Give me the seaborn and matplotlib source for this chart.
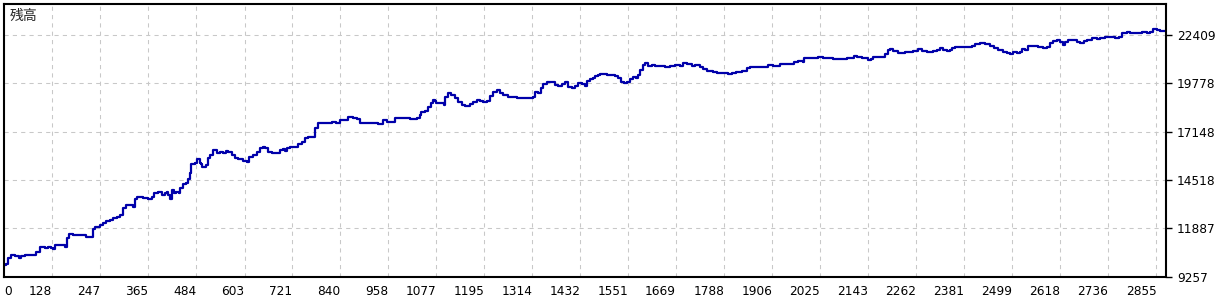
import numpy as np
import pandas as pd
import matplotlib
matplotlib.use("Agg")
import matplotlib.pyplot as plt
import seaborn as sns

# ---- data ----
trade_no = [
    9, 15, 19, 26, 36, 46, 52, 61, 85, 89, 98, 110, 118, 126, 130, 135, 151, 159, 164, 170,
    180, 205, 211, 221, 228, 233, 246, 254, 261, 271, 279, 287, 295, 303, 310, 324, 328, 332, 338, 353,
    365, 374, 379, 390, 398, 406, 411, 415, 419, 423, 429, 435, 441, 443, 450, 458, 464, 468, 472, 480,
    486, 493, 495, 498, 509, 513, 517, 526, 534, 542, 550, 557, 563, 571, 579, 587, 600, 608, 615, 624,
    633, 641, 649, 653, 662, 670, 682, 690, 699, 703, 709, 715, 727, 736, 744, 752, 760, 773, 777, 785,
    793, 806, 818, 830, 839, 851, 859, 871, 880, 888, 905, 925, 933, 942, 946, 956, 966, 974, 979, 995,
    1003, 1012, 1028, 1036, 1040, 1049, 1057, 1063, 1068, 1073, 1077, 1086, 1096, 1098, 1106, 1114, 1123, 1131, 1139, 1147,
    1160, 1168, 1176, 1184, 1193, 1201, 1209, 1217, 1226, 1234, 1242, 1254, 1267, 1275, 1287, 1300, 1308, 1316, 1320, 1328,
    1335, 1341, 1349, 1357, 1370, 1378, 1386, 1394, 1403, 1411, 1419, 1427, 1436, 1444, 1448, 1456, 1464, 1469, 1477, 1481,
    1497, 1518, 1526, 1534, 1541, 1547, 1555, 1563, 1571, 1575, 1580, 1588, 1592, 1600, 1609, 1617, 1629, 1641, 1654, 1666,
    1678, 1687, 1695, 1707, 1715, 1728, 1736, 1744, 1753, 1761, 1769, 1782, 1790, 1798, 1806, 1818, 1831, 1843, 1851, 1864,
    1876, 1884, 1897, 1909, 1917, 1925, 1942, 1954, 1961, 1971, 1975, 1983, 1985, 1999, 2012, 2020, 2032, 2049, 2057, 2082,
    2090, 2098, 2107, 2115, 2127, 2135, 2142, 2150, 2156, 2164, 2181, 2186, 2191, 2197, 2205, 2218, 2226, 2234, 2247, 2255,
    2267, 2275, 2288, 2296, 2304, 2313, 2321, 2329, 2337, 2346, 2351, 2358, 2374, 2391, 2399, 2407, 2419, 2432, 2444, 2454,
    2465, 2477, 2485, 2494, 2502, 2510, 2518, 2522, 2530, 2539, 2551, 2563, 2576, 2584, 2592, 2600, 2609, 2617, 2625, 2629,
    2637, 2650, 2658, 2666, 2675, 2683, 2695, 2708, 2716, 2728, 2740, 2753, 2763, 2769, 2782, 2790, 2802, 2819, 2831, 2839,
    2847, 2856, 2864, 2872, 2878,
]
balance = [
    9894, 9949, 10259, 10439, 10401, 10292, 10384, 10439, 10439, 10618, 10858, 10836, 10858, 10804, 10749, 10967, 10967, 10891, 11348, 11582,
    11544, 11528, 11435, 11435, 11838, 11980, 12089, 12198, 12307, 12345, 12437, 12524, 12617, 12982, 13145, 13162, 13069, 13472, 13581, 13543,
    13488, 13581, 13799, 13853, 13706, 13799, 13886, 13706, 13472, 13979, 13799, 13886, 13832, 14071, 14289, 14376, 14561, 14888, 15395, 15465,
    15651, 15465, 15378, 15248, 15340, 15705, 15885, 16157, 15977, 16064, 16010, 16103, 16064, 15885, 15705, 15667, 15558, 15520, 15792, 15885,
    16064, 16250, 16337, 16282, 16064, 15977, 15977, 16157, 16211, 16103, 16282, 16337, 16320, 16467, 16609, 16794, 16881, 16881, 17339, 17611,
    17611, 17611, 17698, 17611, 17791, 17791, 17970, 17883, 17829, 17611, 17611, 17611, 17557, 17557, 17791, 17698, 17698, 17883, 17916, 17883,
    17916, 17845, 17916, 18063, 18243, 18281, 18515, 18700, 18880, 18826, 18700, 18700, 18608, 19060, 19245, 19152, 18973, 18788, 18608, 18570,
    18646, 18755, 18880, 18826, 18788, 18826, 19114, 19299, 19425, 19245, 19152, 19060, 19027, 18973, 18973, 19005, 19005, 19060, 19299, 19245,
    19517, 19735, 19844, 19844, 19697, 19659, 19735, 19877, 19604, 19550, 19659, 19790, 19735, 19659, 19915, 20007, 20094, 20203, 20241, 20280,
    20241, 20187, 20062, 19877, 19790, 19877, 20007, 20116, 20062, 20241, 20514, 20786, 20879, 20732, 20786, 20748, 20748, 20661, 20748, 20786,
    20748, 20879, 20824, 20732, 20786, 20694, 20552, 20459, 20476, 20421, 20334, 20334, 20367, 20280, 20334, 20421, 20476, 20606, 20694, 20694,
    20661, 20694, 20786, 20748, 20732, 20841, 20841, 20841, 20966, 21004, 21004, 20933, 21184, 21151, 21184, 21222, 21184, 21184, 21113, 21113,
    21184, 21151, 21276, 21238, 21151, 21151, 21058, 21113, 21238, 21238, 21238, 21369, 21603, 21641, 21549, 21423, 21423, 21510, 21510, 21549,
    21641, 21549, 21510, 21510, 21549, 21603, 21696, 21603, 21565, 21603, 21728, 21783, 21783, 21783, 21821, 21913, 21968, 21913, 21837, 21696,
    21603, 21510, 21423, 21369, 21478, 21423, 21510, 21641, 21603, 21821, 21821, 21783, 21696, 21783, 22001, 22109, 22148, 22055, 21875, 22055,
    22148, 22148, 22055, 22001, 22109, 22148, 22240, 22186, 22240, 22295, 22295, 22273, 22327, 22545, 22567, 22512, 22545, 22567, 22545, 22600,
    22730, 22692, 22654, 22638, 22692,
]
x_ticks = [128, 247, 365, 484, 603, 721, 840, 958, 1077, 1195, 1314, 1432, 1551, 1669, 1788, 1906,
           2025, 2143, 2262, 2381, 2499, 2618, 2736, 2855]
y_ticks = [9257, 11887, 14518, 17148, 19778, 22409]
title = "残高"

df = pd.DataFrame({"trade": trade_no, "balance": balance})

sns.set_style("white")
plt.rcParams["font.family"] = ["DejaVu Sans", "Noto Sans CJK JP"]

W, H = 1230, 300
fig = plt.figure(figsize=(W / 100, H / 100), dpi=100)
ax = fig.add_axes([4 / W, (H - 276.7) / H, (1165.7 - 4) / W, (276.7 - 4) / H])

sns.lineplot(data=df, x="trade", y="balance", ax=ax, color="#0000AA",
             linewidth=1.6, estimator=None, sort=False, drawstyle="steps-post")

ax.set_xlim(9, 2878)
ax.set_ylim(9257, 24107)

ax.set_xticks([9] + x_ticks)
ax.set_xticklabels(["0"] + [str(v) for v in x_ticks])
ax.set_yticks(y_ticks)
ax.set_yticklabels([str(v) for v in y_ticks])

ax.yaxis.tick_right()
ax.tick_params(axis="both", direction="out", length=4, width=1, color="black",
               labelsize=8.7, labelcolor="black", pad=2)
ax.tick_params(axis="y", pad=4)
for lab in ax.get_xticklabels():
    lab.set_ha("right")
ax.get_xticklabels()[0].set_ha("left")

ax.grid(True, color="#c8c8c8", linestyle=(0, (4, 4)), linewidth=0.75)
ax.get_xgridlines()[0].set_visible(False)

for s in ax.spines.values():
    s.set_visible(True)
    s.set_color("black")
    s.set_linewidth(1.5)

ax.set_xlabel("")
ax.set_ylabel("")
ax.text(6 / (1165.7 - 4), 1 - 12 / (276.7 - 4), title, transform=ax.transAxes,
        fontsize=10, family=["Noto Sans CJK JP", "DejaVu Sans"], va="center", ha="left")

fig.savefig("out.png", dpi=100, facecolor="white")
